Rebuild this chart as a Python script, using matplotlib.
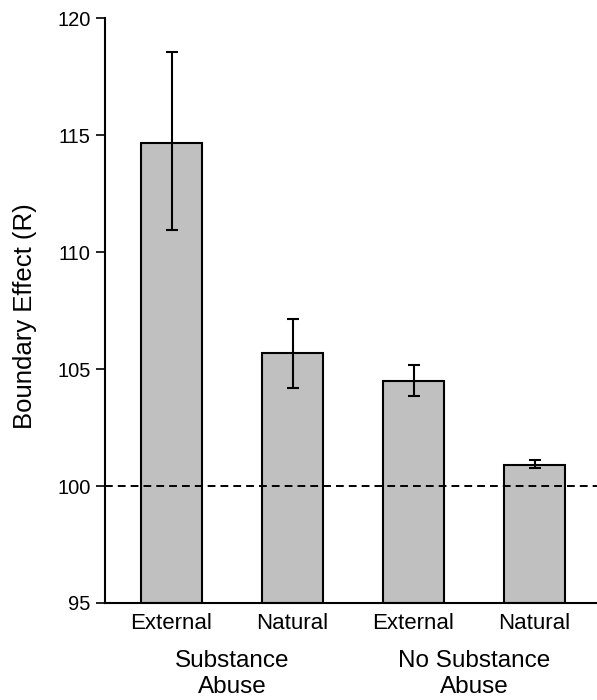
import matplotlib
matplotlib.use("Agg")
import matplotlib.pyplot as plt

plt.rcParams['font.family'] = ['Liberation Sans', 'DejaVu Sans']

# data
conditions = ["External", "Natural", "External", "Natural"]
groups = ["Substance\nAbuse", "No Substance\nAbuse"]
means = [114.67, 105.68, 104.51, 100.91]
err_low = [110.95, 104.19, 103.86, 100.77]
err_high = [118.55, 107.15, 105.17, 101.11]
baseline = 100

yerr = [[m - lo for m, lo in zip(means, err_low)],
        [hi - m for m, hi in zip(means, err_high)]]
xpos = list(range(len(means)))

fig = plt.figure(figsize=(5.97, 7.0), dpi=100)
ax = fig.add_axes([105 / 597, 1 - 603 / 700, 1 - 105 / 597, (603 - 18.3) / 700])

ax.bar(xpos, [m - 95 for m in means], bottom=95, width=0.5,
       color="#c0c0c0", edgecolor="black", linewidth=1.5, zorder=2)
ax.errorbar(xpos, means, yerr=yerr, fmt="none", ecolor="black",
            elinewidth=1.5, capsize=4.6, capthick=1.5, zorder=3)
ax.axhline(baseline, color="black", lw=1.4, dashes=(4, 2.6), zorder=4)

ax.set_xlim(-0.5496, 3.5165)
ax.set_ylim(95, 120)
ax.set_yticks(range(95, 121, 5))
ax.set_xticks(xpos)
ax.set_xticklabels(conditions, fontsize=16)
ax.tick_params(axis="x", length=0, pad=7)
ax.tick_params(axis="y", direction="out", length=6.5, width=1.2, labelsize=14.5, pad=4)

for side in ["top", "right"]:
    ax.spines[side].set_visible(False)
ax.spines["left"].set_linewidth(1.5)
ax.spines["bottom"].set_linewidth(1.5)

ax.set_ylabel("Boundary Effect (R)", fontsize=18.5)
ax.yaxis.set_label_coords(-0.138, 0.49)

for i, g in enumerate(groups):
    ax.annotate(g, xy=(2 * i + 0.5, 0), xycoords=("data", "axes fraction"),
                xytext=(0, -33.5), textcoords="offset points",
                ha="center", va="top", fontsize=17.5, linespacing=1.26)

fig.savefig("out.png", dpi=100)
